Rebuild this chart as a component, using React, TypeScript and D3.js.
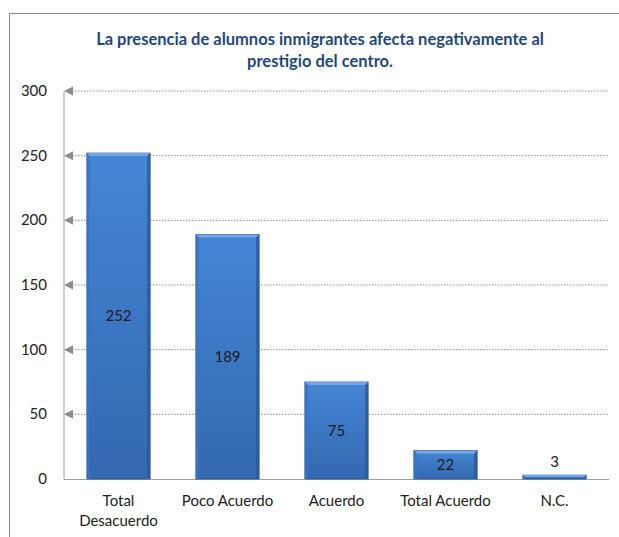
import React from "react";
import * as d3 from "d3";

const categories = ["Total Desacuerdo", "Poco Acuerdo", "Acuerdo", "Total Acuerdo", "N.C."];
const values = [252, 189, 75, 22, 3];
const yTicks = [0, 50, 100, 150, 200, 250, 300];
const titleLines = ["La presencia de alumnos inmigrantes afecta negativamente al", "prestigio del centro."];

const W = 619, H = 537;
const FONT = "Lato, 'Open Sans', sans-serif";

export default function App() {
  const left = 64, right = 609, top = 91, bottom = 479;
  const x = d3.scaleBand<string>().domain(categories).range([left, right]).paddingInner(0.42).paddingOuter(0.21);
  const y = d3.scaleLinear().domain([0, 300]).range([bottom, top]);
  const bw = x.bandwidth();
  const bev = 3;

  return (
    <svg width={W} height={H} style={{ position: "absolute", left: 0, top: 0 }}>
      <defs>
        <linearGradient id="barg" x1="0" y1="0" x2="0" y2="1">
          <stop offset="0" stopColor="#4486d6" />
          <stop offset="1" stopColor="#3468b0" />
        </linearGradient>
      </defs>
      <rect x={0} y={0} width={W} height={H} fill="#fff" />
      <path d={`M9.5,${H} V13.5 H${W}`} fill="none" stroke="#8c8c8c" strokeWidth={1} />
      {titleLines.map((t, i) => (
        <text key={i} x={320} y={45 + i * 22} textAnchor="middle" fontFamily={FONT} fontWeight="bold" fontSize={16.5} fill="#1f497d">{t}</text>
      ))}
      {yTicks.map((t) => (
        <g key={t}>
          {t > 0 && (
            <line x1={left + 8} x2={right} y1={y(t)} y2={y(t)} stroke="#8a8a8a" strokeWidth={1} strokeDasharray="1.5,1.5" />
          )}
          {t > 0 && (
            <path d={`M${left},${y(t)} L${left + 9},${y(t) - 4.5} L${left + 9},${y(t) + 4.5} Z`} fill="#8c8c8c" />
          )}
          <text x={47} y={y(t) + 5} textAnchor="end" fontFamily={FONT} fontSize={15} fill="#222">{t}</text>
        </g>
      ))}
      <line x1={left} x2={left} y1={top} y2={bottom} stroke="#a0a0a0" strokeWidth={1} />
      <line x1={left} x2={right} y1={bottom + 0.5} y2={bottom + 0.5} stroke="#a0a0a0" strokeWidth={1} />
      {categories.map((c, i) => {
        const x0 = x(c)!;
        const y0 = y(values[i]);
        const h = bottom - y0;
        const b = Math.min(bev, h / 2);
        return (
          <g key={c}>
            <rect x={x0} y={y0} width={bw} height={h} fill="url(#barg)" stroke="#2a5490" strokeWidth={0.8} />
            <path d={`M${x0},${y0} L${x0 + bw},${y0} L${x0 + bw - b},${y0 + b} L${x0 + b},${y0 + b} Z`} fill="#7aaae6" opacity={0.9} />
            <path d={`M${x0 + bw},${y0} L${x0 + bw},${bottom} L${x0 + bw - b},${bottom} L${x0 + bw - b},${y0 + b} Z`} fill="#2a5898" opacity={0.8} />
            <path d={`M${x0},${y0} L${x0},${bottom} L${x0 + b},${bottom} L${x0 + b},${y0 + b} Z`} fill="#3a74c0" opacity={0.8} />
            <text
              x={x0 + bw / 2}
              y={h > 20 ? y0 + h / 2 + 5 : y0 - 8}
              textAnchor="middle" fontFamily={FONT} fontSize={15} fill="#1a1a1a">{values[i]}</text>
          </g>
        );
      })}
      {categories.map((c) => {
        const cx = x(c)! + bw / 2;
        const words = c === "Total Desacuerdo" ? ["Total", "Desacuerdo"] : [c];
        return (
          <text key={c} x={cx} y={506} textAnchor="middle" fontFamily={FONT} fontSize={15} fill="#222">
            {words.map((w, j) => (
              <tspan key={j} x={cx} dy={j === 0 ? 0 : 20}>{w}</tspan>
            ))}
          </text>
        );
      })}
    </svg>
  );
}
